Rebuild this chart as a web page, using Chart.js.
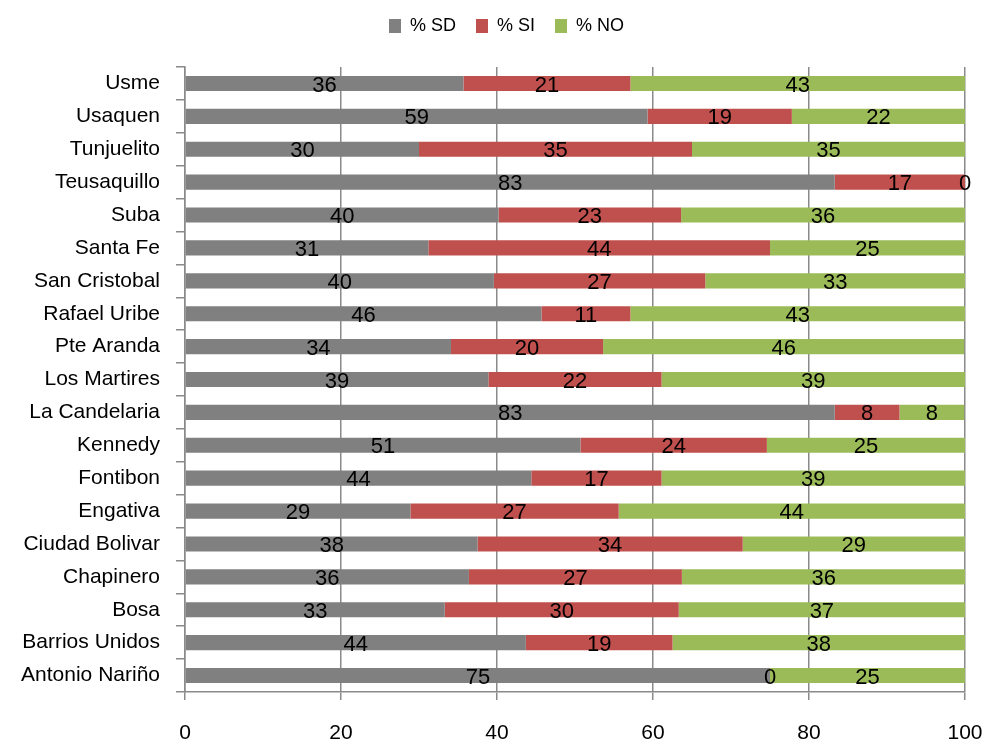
<!DOCTYPE html>
<html>
<head>
<meta charset="utf-8">
<script src="https://cdn.jsdelivr.net/npm/chart.js@4.4.1/dist/chart.umd.min.js"></script>
<style>
  html, body { margin: 0; padding: 0; background: #fff; }
  #chart { display: block; }
</style>
</head>
<body>
<canvas id="chart" width="987" height="744"></canvas>
<script>
// Respuestas por localidad (porcentajes)
const localidades = ['Usme', 'Usaquen', 'Tunjuelito', 'Teusaquillo', 'Suba', 'Santa Fe',
  'San Cristobal', 'Rafael Uribe', 'Pte Aranda', 'Los Martires', 'La Candelaria', 'Kennedy',
  'Fontibon', 'Engativa', 'Ciudad Bolivar', 'Chapinero', 'Bosa', 'Barrios Unidos', 'Antonio Nariño'];
const pctSD = [35.7, 59.3, 30.0, 83.3, 40.2, 31.2, 39.6, 45.7, 34.1, 38.9, 83.3, 50.7, 44.4, 28.9, 37.5, 36.4, 33.3, 43.7, 75.0];
const pctSI = [21.4, 18.5, 35.0, 16.7, 23.4, 43.8, 27.1, 11.4, 19.5, 22.2, 8.3, 23.9, 16.7, 26.7, 34.0, 27.3, 30.0, 18.8, 0];
const pctNO = [42.9, 22.2, 35.0, 0, 36.4, 25.0, 33.3, 42.9, 46.3, 38.9, 8.3, 25.4, 38.9, 44.4, 28.5, 36.4, 36.7, 37.5, 25.0];
const xTicks = [0, 20, 40, 60, 80, 100];

const FONT = "'Liberation Sans', Arial, sans-serif";
const gridColor = '#8a8a8a';

// draws the rounded value in the middle of every segment
const segmentLabels = {
  id: 'segmentLabels',
  afterDatasetsDraw(chart) {
    const ctx = chart.ctx;
    ctx.save();
    ctx.font = '22px ' + FONT;
    ctx.fillStyle = '#000';
    ctx.textAlign = 'center';
    ctx.textBaseline = 'middle';
    chart.data.datasets.forEach((ds, i) => {
      chart.getDatasetMeta(i).data.forEach((bar, j) => {
        const x = (bar.x + bar.base) / 2;
        ctx.fillText(Math.round(ds.data[j]), x, bar.y + 2);
      });
    });
    ctx.restore();
  }
};

// extra room under the legend, and legend nudged right like the original
const legendTweak = {
  id: 'legendTweak',
  afterInit(chart) {
    const fit = chart.legend.fit;
    chart.legend.fit = function () {
      fit.call(this);
      this.height += 22;
    };
  },
  afterLayout(chart) {
    chart.legend.left += 24;
    chart.legend.right += 24;
  }
};

new Chart(document.getElementById('chart'), {
  type: 'bar',
  data: {
    labels: localidades,
    datasets: [
      { label: '% SD', data: pctSD, backgroundColor: '#808080' },
      { label: '% SI', data: pctSI, backgroundColor: '#c0504d' },
      { label: '% NO', data: pctNO, backgroundColor: '#9bbb59' }
    ]
  },
  options: {
    indexAxis: 'y',
    responsive: false,
    animation: false,
    layout: { padding: { top: -3, right: 22, left: 0, bottom: 0 } },
    datasets: { bar: { categoryPercentage: 1, barPercentage: 0.46 } },
    scales: {
      x: {
        stacked: true,
        min: 0,
        max: 100,
        afterBuildTicks: axis => { axis.ticks = xTicks.map(v => ({ value: v })); },
        afterFit: axis => {
          axis.height = 52;
          axis.paddingLeft = 0;
          axis.paddingRight = 0;
        },
        grid: { color: gridColor, lineWidth: 1.5, tickLength: 8 },
        border: { color: gridColor, width: 1.5 },
        ticks: { color: '#000', font: { family: FONT, size: 21 }, padding: 21 }
      },
      y: {
        stacked: true,
        afterFit: axis => { axis.width = 185; },
        grid: { drawOnChartArea: false, color: gridColor, lineWidth: 1.5, tickLength: 9 },
        border: { color: gridColor, width: 1.5 },
        ticks: { color: '#000', font: { family: FONT, size: 21 }, padding: 16 }
      }
    },
    plugins: {
      legend: {
        position: 'top',
        labels: {
          boxWidth: 12,
          boxHeight: 14,
          padding: 20,
          color: '#000',
          font: { family: FONT, size: 18 }
        }
      },
      tooltip: { enabled: false }
    }
  },
  plugins: [segmentLabels, legendTweak]
});
</script>
</body>
</html>
